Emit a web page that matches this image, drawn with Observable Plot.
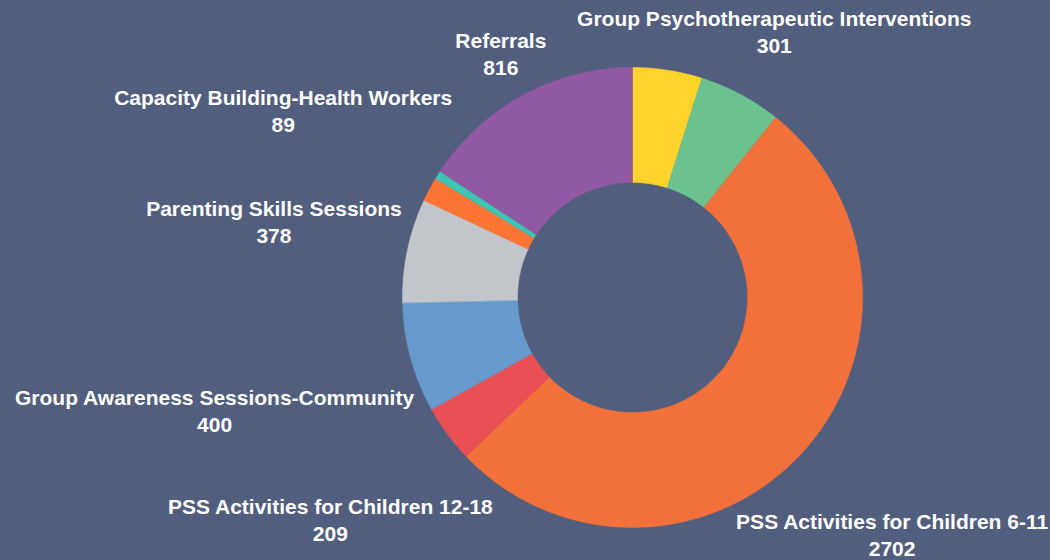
<!DOCTYPE html>
<html><head><meta charset="utf-8">
<script src="https://cdn.jsdelivr.net/npm/d3@7"></script>
<script src="https://cdn.jsdelivr.net/npm/@observablehq/plot@0.6"></script>
<style>html,body{margin:0;padding:0;background:#525e7d;overflow:hidden;}</style>
</head><body><div id="chart"></div>
<script>
// Data (clockwise from 12 o'clock)
const categories = [
  "Individual Psychotherapeutic Interventions",
  "Group Psychotherapeutic Interventions",
  "PSS Activities for Children 6-11",
  "PSS Activities for Children 12-18",
  "Group Awareness Sessions-Community",
  "Parenting Skills Sessions",
  "Capacity Building-Health Workers",
  "Capacity Building-Teachers",
  "Referrals"
];
const values = [253, 301, 2702, 209, 400, 378, 89, 30, 816];
const colors = ["#ffd32a", "#6cc28e", "#f2703a", "#e94f55", "#6699cc", "#c2c6ca", "#ff7433", "#3cc4b4", "#9159a3"];
const showLabel = [false, true, true, true, true, true, true, false, true];

// Layout
const W = 1050, H = 560, CX = 632, CY = 297, R = 230, INNER = 0.5;
const BG = "#525e7d";
const FONT = "'Liberation Sans', Arial, sans-serif";
const FS = 21;

const arcs = d3.pie().sort(null).value(d => d)(values);
const slicePts = [];
arcs.forEach((a, i) => {
  const n = Math.max(2, Math.ceil((a.endAngle - a.startAngle) / (Math.PI / 360)));
  for (let k = 0; k <= n; k++) {
    const t = a.startAngle + (a.endAngle - a.startAngle) * k / n;
    slicePts.push({name: categories[i], x: Math.sin(t), y: Math.cos(t)});
  }
  for (let k = n; k >= 0; k--) {
    const t = a.startAngle + (a.endAngle - a.startAngle) * k / n;
    slicePts.push({name: categories[i], x: INNER * Math.sin(t), y: INNER * Math.cos(t)});
  }
});

// Label placement: along the slice's mid-angle ray, box edge just outside the ring, kept inside the frame
const ctx = document.createElement("canvas").getContext("2d");
ctx.font = `bold ${FS}px ${FONT}`;
const PAD = 7, M = 4, HTOP = 27, HBOT = 21, HTOP_NEAR = 12;
const labels = [];
arcs.forEach((a, i) => {
  if (!showLabel[i]) return;
  const mid = (a.startAngle + a.endAngle) / 2;
  const ux = Math.sin(mid), uy = -Math.cos(mid);
  const hw = Math.max(ctx.measureText(categories[i]).width, ctx.measureText(String(values[i])).width) / 2;
  const ext = Math.abs(ux) * hw + (uy > 0 ? uy * HTOP_NEAR : -uy * HBOT);
  let dist = R + PAD + ext;
  if (ux > 1e-6) dist = Math.min(dist, (W - 2 - hw - CX) / ux);
  if (ux < -1e-6) dist = Math.min(dist, (CX - hw - 2) / -ux);
  if (uy < -1e-6) dist = Math.min(dist, (CY - HTOP - M) / -uy);
  if (uy > 1e-6) dist = Math.min(dist, (H - M - HBOT - CY) / uy);
  const px = CX + ux * dist, py = CY + uy * dist;
  labels.push({name: categories[i], value: String(values[i]), x: (px - CX) / R, y: (CY - py) / R});
});

const chart = Plot.plot({
  width: W, height: H, margin: 0,
  style: {background: BG, fontFamily: FONT},
  x: {domain: [-CX / R, (W - CX) / R], axis: null},
  y: {domain: [-(H - CY) / R, CY / R], axis: null},
  color: {domain: categories, range: colors},
  marks: [
    Plot.line(slicePts, {x: "x", y: "y", z: "name", fill: "name", stroke: "name", strokeWidth: 0.5, curve: "linear-closed"}),
    Plot.text(labels, {x: "x", y: "y", text: "name", lineAnchor: "bottom", dy: -6, fill: "white", fontSize: FS, fontWeight: "bold"}),
    Plot.text(labels, {x: "x", y: "y", text: "value", lineAnchor: "bottom", dy: 21, fill: "white", fontSize: FS, fontWeight: "bold"})
  ]
});
document.getElementById("chart").appendChild(chart);
</script>
</body></html>
